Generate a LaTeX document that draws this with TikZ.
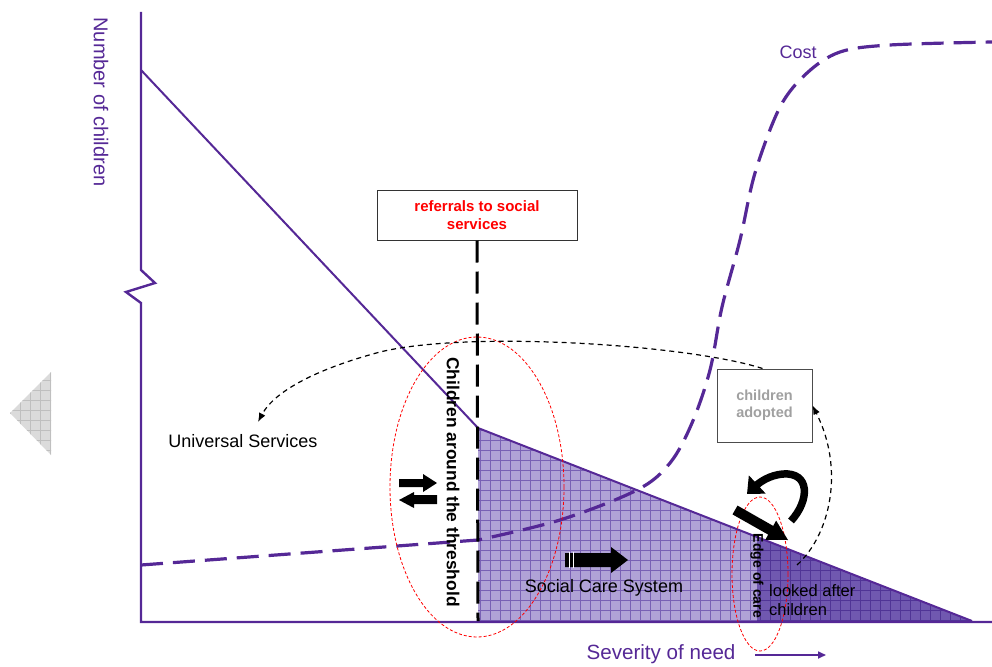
\documentclass[tikz,border=0pt]{standalone}
\usepackage{fontspec}
\setmainfont{Liberation Sans}
\usetikzlibrary{arrows.meta,shapes.geometric}
\definecolor{pur}{RGB}{85,40,150}
\definecolor{lightfill}{RGB}{176,162,214}
\definecolor{lightgrid}{RGB}{120,96,180}
\definecolor{darkfill}{RGB}{112,88,176}
\definecolor{darkgrid}{RGB}{80,52,150}
\definecolor{refred}{RGB}{255,0,0}
\definecolor{adgray}{RGB}{160,160,160}
\begin{document}
\begin{tikzpicture}[x=1pt,y=-1pt,
  axisline/.style={pur,line width=2.4pt},
  trendline/.style={pur,line width=2pt},
  costline/.style={pur,line width=3.2pt,dash pattern=on 22pt off 10pt},
  thresh/.style={black,line width=3pt,dash pattern=on 22pt off 9pt},
  redell/.style={red,line width=0.8pt,dash pattern=on 3pt off 2pt},
  flowarc/.style={black,line width=1.2pt,dash pattern=on 5pt off 4pt,-{Latex[length=9pt,width=7pt]}},
  labelbox/.style={draw=black!80,line width=1pt,fill=white,align=center,inner sep=2pt},
  purtext/.style={text=pur},
  blockarrow/.style={fill=black,draw=none}
]
\useasboundingbox (0,0) rectangle (992,666);

% grey triangle on the left
\begin{scope}
  \clip (10,413) -- (51,372) -- (51,455) -- cycle;
  \fill[black!14] (0,360) rectangle (60,460);
  \draw[black!25,line width=0.8pt,step=10pt] (0,360) grid (60,460);
\end{scope}

% coordinates of the curve of number of children
\coordinate (top) at (141,70);
\coordinate (knee) at (478,428);
\coordinate (tend) at (972,621);
\coordinate (base) at (478,621);
\coordinate (split) at (757,537);

% filled social care region
\begin{scope}
  \clip (knee) -- (tend) -- (base) -- cycle;
  \fill[lightfill] (470,420) rectangle (980,630);
  \draw[lightgrid,line width=0.6pt,step=10pt] (470,420) grid (980,630);
  \fill[darkfill] (split) rectangle (980,630);
  \draw[darkgrid,line width=0.6pt,step=10pt] (757,530) grid (980,630);
\end{scope}

% number of children line
\draw[trendline] (top) -- (knee) -- (tend);

% axes with break
\draw[axisline,line join=miter] (141,12) -- (141,270) -- (155,283) -- (126,292) -- (141,303) -- (141,622) -- (992,622);

% cost curve
\draw[costline] (141,565) -- plot[smooth,tension=0.55] coordinates {(478,540) (560,520) (637,490) (670,463) (692,423) (710,370) (722,307) (740,240) (755,173) (780,107) (807,73) (840,52) (890,45) (992,42)};

% referrals box and threshold line
\node[labelbox,minimum width=200pt,minimum height=50pt,text=refred,font=\bfseries\fontsize{15}{18}\selectfont] (ref) at (477,215) {referrals to social\\services};
\draw[thresh] (ref.south) -- (base);

% children adopted box
\node[labelbox,draw=black!70,minimum width=95pt,minimum height=73pt,text=adgray,font=\bfseries\fontsize{14.5}{17}\selectfont] (adopt) at (764.5,405.5) {children\\adopted};

% red dotted ellipses
\node[redell,draw,ellipse,minimum width=174pt,minimum height=300pt,inner sep=0pt] (ell1) at (477,487) {};
\node[redell,draw,ellipse,minimum width=56pt,minimum height=154pt,inner sep=0pt] (ell2) at (760,574) {};

% dashed flow arcs
\coordinate (usarrow) at (258,422);
\coordinate (lacstart) at (797,565);
\draw[flowarc] (adopt.north) ++(-2,0) .. controls (690,345) and (470,330) .. (380,352) .. controls (320,368) and (275,390) .. (usarrow);
\draw[flowarc] (lacstart) .. controls (830,535) and (845,470) .. (adopt.east);

% texts
\node[purtext,rotate=-90,font=\fontsize{20}{24}\selectfont] (ylab) at (101,102) {Number of children};
\node[purtext,font=\fontsize{20.6}{24}\selectfont] (xlab) at (661,654) {Severity of need};
\coordinate (xa1) at (755,655);
\coordinate (xa2) at (826,655);
\draw[pur,line width=1.6pt,-{Triangle[length=8pt,width=7pt]}] (xa1) -- (xa2);
\node[purtext,font=\fontsize{18}{22}\selectfont] (cost) at (798,52) {Cost};
\node[font=\fontsize{18}{21}\selectfont] (us) at (243,441) {Universal Services};
\node[rotate=-90,font=\bfseries\fontsize{17.4}{20}\selectfont] (thr) at (453,482) {Children around the threshold};
\node[rotate=-90,font=\bfseries\fontsize{14}{17}\selectfont] (edge) at (757,576) {Edge of care};
\node[font=\fontsize{18}{22}\selectfont] (scs) at (604,588) {Social Care System};
\node[anchor=west,align=left,inner sep=0pt,font=\fontsize{16.5}{18.5}\selectfont] (lac) at (769,600) {looked after\\children};

% double arrows at the threshold
\fill[blockarrow] (399,479) -- (423,479) -- (423,474) -- (437,483) -- (423,492) -- (423,487) -- (399,487) -- cycle;
\fill[blockarrow] (437,495) -- (414,495) -- (414,492) -- (399,500) -- (414,508) -- (414,504) -- (437,504) -- cycle;

% big arrow in social care system
\fill[blockarrow] (565,553) -- (611,553) -- (611,547) -- (628,560) -- (611,573) -- (611,567) -- (565,567) -- cycle;
\draw[white,line width=0.8pt] (569,552) -- (569,568);
\draw[white,line width=0.8pt] (573,552) -- (573,568);

% edge of care arrows
\fill[blockarrow] (732.5,514.4) -- (768.2,534.6) -- (765.3,539.8) -- (788,540) -- (776.1,520.6) -- (773.2,525.9) -- (737.5,505.6) -- cycle;
\draw[black,line width=7.5pt,-{Triangle[length=14pt,width=24pt]}] (791,521) .. controls (810,500) and (810,472) .. (783,474) .. controls (770,475) and (760,482) .. (747,494);
\end{tikzpicture}
\end{document}
